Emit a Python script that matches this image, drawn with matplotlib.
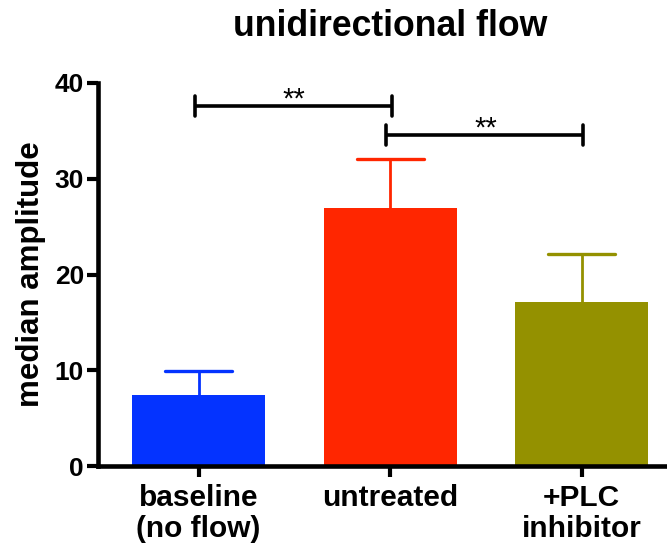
import matplotlib
matplotlib.use("Agg")
import matplotlib.pyplot as plt

plt.rcParams['font.family'] = ['Liberation Sans', 'DejaVu Sans']
plt.rcParams['font.weight'] = 'bold'

categories = ["baseline\n(no flow)", "untreated", "+PLC\ninhibitor"]
means = [7.4, 26.9, 17.1]
upper_err = [2.55, 5.15, 5.0]
colors = ["#0433FF", "#FF2600", "#949100"]
yticks = [0, 10, 20, 30, 40]
brackets = [(0, 1, 37.6, "**"), (1, 2, 34.6, "**")]

fig = plt.figure(figsize=(6.67, 5.49), dpi=100)
ax = fig.add_axes([98/667, 1-466/549, 1-98/667, (466-83)/549])

x = list(range(len(categories)))
ax.bar(x, means, width=0.695, color=colors, zorder=2)
cap_half = 0.175
for xi, m, e, c in zip(x, means, upper_err, colors):
    ax.plot([xi, xi], [m, m + e], color=c, lw=2.0, zorder=1,
            solid_capstyle='butt')
    ax.plot([xi - cap_half, xi + cap_half], [m + e, m + e], color=c, lw=2.4,
            zorder=1, solid_capstyle='round')

for x0, x1, yb, label in brackets:
    xa, xb = x0 - 0.02, x1 + 0.01
    ax.plot([xa, xb], [yb, yb], color='black', lw=2.6,
            clip_on=False, solid_capstyle='butt')
    for xx in (xa, xb):
        ax.plot([xx, xx], [yb - 1.05, yb + 1.05], color='black', lw=2.6,
                clip_on=False, solid_capstyle='round')
    ax.text((x0 + x1) / 2, yb - 0.15, label, ha='center', va='baseline',
            fontsize=21, fontweight='normal')

ax.set_xlim(-0.525, 2.446)
ax.set_ylim(0, 40)
ax.set_yticks(yticks)
ax.set_xticks(x)
ax.set_xticklabels(categories, fontsize=21.5, fontweight='bold', linespacing=1.12)
ax.tick_params(axis='y', labelsize=19, width=3, length=8, pad=2)
ax.tick_params(axis='x', width=3, length=8, pad=5)
for s in ('top', 'right'):
    ax.spines[s].set_visible(False)
for s in ('left', 'bottom'):
    ax.spines[s].set_linewidth(3.3)

ax.set_ylabel("median amplitude", fontsize=22.5, fontweight='bold', labelpad=6)
fig.text(390/667, 1-27/549, "unidirectional flow", ha='center', va='center',
         fontsize=25.7, fontweight='bold')

fig.savefig("out.png", dpi=100)
